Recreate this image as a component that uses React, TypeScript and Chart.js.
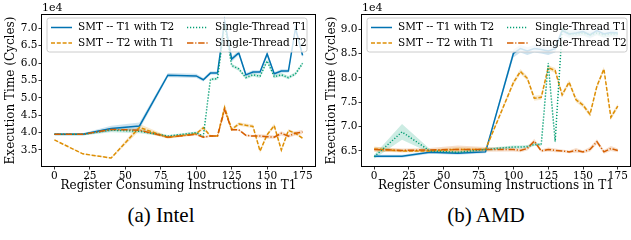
import React, { useEffect, useRef } from "react";
import { Chart, registerables } from "chart.js";
Chart.register(...registerables);

const xValues = [0, 20, 40, 60, 80, 100, 105, 110, 115, 120, 125, 130, 135, 140, 145, 150, 155, 160, 165, 170, 175];
const xTicks = [0, 25, 50, 75, 100, 125, 150, 175];
const seriesLabels = ["SMT -- T1 with T2", "SMT -- T2 with T1", "Single-Thread T1", "Single-Thread T2"];
const xTitle = "Register Consuming Instructions in T1";
const yTitle = "Execution Time (Cycles)";
const captions = ["(a) Intel", "(b) AMD"];

// Intel (values in 1e4 cycles)
const intelSmtT1 = [3.95, 3.95, 4.12, 4.19, 5.65, 5.63, 5.52, 5.71, 5.71, 7.2, 6.11, 6.29, 5.66, 5.74, 5.74, 6.26, 5.69, 5.77, 5.77, 7.0, 6.22];
const intelSmtT2 = [3.79, 3.39, 3.27, 4.15, 3.86, 3.97, 4.14, 3.9, 3.9, 4.72, 4.09, 4.25, 4.21, 4.18, 3.47, 3.94, 4.2, 3.5, 4.06, 3.98, 3.84];
const intelStT1 = [3.95, 3.95, 4.07, 4.04, 3.9, 4.0, 3.89, 5.53, 5.55, 7.1, 5.93, 5.83, 5.58, 5.66, 5.62, 6.06, 5.61, 5.66, 5.58, 5.69, 5.99];
const intelStT2 = [3.95, 3.95, 4.09, 4.07, 3.87, 3.95, 3.87, 3.9, 3.9, 4.66, 4.08, 4.08, 3.92, 3.9, 3.9, 3.88, 3.87, 3.98, 3.9, 3.98, 4.02];
const intelSmtT1Spread = [0.03, 0.03, 0.08, 0.1, 0.06, 0.06, 0.05, 0.05, 0.05, 0.15, 0.08, 0.06, 0.05, 0.05, 0.05, 0.08, 0.05, 0.05, 0.05, 0.12, 0.08];
const intelSmtT2Spread = [0.02, 0.02, 0.02, 0.1, 0.04, 0.03, 0.06, 0.03, 0.03, 0.12, 0.05, 0.05, 0.05, 0.05, 0.06, 0.04, 0.06, 0.06, 0.04, 0.04, 0.03];
const intelStT1Spread = [0.03, 0.03, 0.06, 0.06, 0.03, 0.03, 0.03, 0.04, 0.04, 0.08, 0.05, 0.05, 0.05, 0.05, 0.05, 0.05, 0.05, 0.05, 0.05, 0.05, 0.05];
const intelStT2Spread = [0.02, 0.02, 0.04, 0.04, 0.03, 0.03, 0.03, 0.03, 0.03, 0.08, 0.03, 0.03, 0.03, 0.03, 0.05, 0.06, 0.05, 0.06, 0.05, 0.06, 0.06];
const intelYTicks = [3.5, 4.0, 4.5, 5.0, 5.5, 6.0, 6.5, 7.0];

// AMD (values in 1e4 cycles)
const amdSmtT1 = [6.39, 6.39, 6.47, 6.45, 6.48, 8.5, 8.6, 8.55, 8.6, 8.58, 8.55, 8.6, 8.97, 8.9, 8.92, 8.95, 8.88, 8.97, 8.9, 8.93, 8.92];
const amdSmtT2 = [6.54, 6.5, 6.5, 6.53, 6.53, 7.9, 8.13, 7.99, 7.58, 7.6, 8.21, 8.15, 7.65, 7.91, 7.55, 7.44, 7.25, 7.83, 8.18, 7.19, 7.42];
const amdStT1 = [6.38, 6.89, 6.5, 6.47, 6.53, 6.58, 6.58, 6.59, 6.63, 6.63, 8.3, 6.69, 9.0, 8.9, 8.9, 8.92, 8.88, 8.92, 8.88, 8.9, 8.9];
const amdStT2 = [6.53, 6.51, 6.52, 6.53, 6.53, 6.53, 6.51, 6.55, 6.7, 6.5, 6.53, 6.51, 6.5, 6.48, 6.51, 6.48, 6.53, 6.69, 6.48, 6.55, 6.51];
const amdSmtT1Spread = [0.03, 0.03, 0.03, 0.03, 0.03, 0.08, 0.08, 0.08, 0.08, 0.08, 0.08, 0.08, 0.08, 0.08, 0.08, 0.08, 0.08, 0.08, 0.08, 0.08, 0.08];
const amdSmtT2Spread = [0.05, 0.03, 0.03, 0.05, 0.03, 0.05, 0.05, 0.05, 0.05, 0.05, 0.05, 0.05, 0.05, 0.05, 0.05, 0.05, 0.05, 0.05, 0.05, 0.05, 0.05];
const amdStT1Spread = [0.04, 0.16, 0.04, 0.03, 0.03, 0.03, 0.03, 0.03, 0.03, 0.03, 0.05, 0.05, 0.05, 0.05, 0.05, 0.05, 0.05, 0.05, 0.05, 0.05, 0.05];
const amdStT2Spread = [0.05, 0.04, 0.04, 0.08, 0.05, 0.04, 0.04, 0.04, 0.05, 0.03, 0.04, 0.04, 0.03, 0.03, 0.05, 0.03, 0.05, 0.05, 0.04, 0.05, 0.04];
const amdYTicks = [6.5, 7.0, 7.5, 8.0, 8.5, 9.0];

const colors = ["#0173b2", "#de8f05", "#029e73", "#d55e00"];
const fills = ["rgba(1,115,178,0.2)", "rgba(222,143,5,0.2)", "rgba(2,158,115,0.2)", "rgba(213,94,0,0.2)"];
const dashes: number[][] = [[], [4, 1.8], [1.2, 1.8], [6.4, 1.8, 1.2, 1.8]];
const serif = "'DejaVu Serif', serif";

type Cfg = {
  series: number[][];
  spreads: number[][];
  yTicks: number[];
  yMin: number;
  yMax: number;
  axisWidth: number;
  padRight: number;
  titlePad: number;
};

const legendPlugin = {
  id: "mplDecor",
  afterDraw(chart: any) {
    const { ctx, chartArea } = chart;
    const { left, right, top, bottom } = chartArea;
    ctx.save();
    ctx.strokeStyle = "#000";
    ctx.lineWidth = 1;
    ctx.setLineDash([]);
    ctx.strokeRect(Math.round(left) - 0.5, Math.round(top) - 0.5, Math.round(right - left) + 1, Math.round(bottom - top) + 1);
    ctx.fillStyle = "#000";
    ctx.font = `11px ${serif}`;
    ctx.textBaseline = "bottom";
    ctx.textAlign = "left";
    ctx.fillText("1e4", left, top - 1);
    const bx = left + 5, by = top + 3, bw = 260, bh = 34, r = 2.5;
    ctx.beginPath();
    ctx.moveTo(bx + r, by);
    ctx.lineTo(bx + bw - r, by);
    ctx.quadraticCurveTo(bx + bw, by, bx + bw, by + r);
    ctx.lineTo(bx + bw, by + bh - r);
    ctx.quadraticCurveTo(bx + bw, by + bh, bx + bw - r, by + bh);
    ctx.lineTo(bx + r, by + bh);
    ctx.quadraticCurveTo(bx, by + bh, bx, by + bh - r);
    ctx.lineTo(bx, by + r);
    ctx.quadraticCurveTo(bx, by, bx + r, by);
    ctx.closePath();
    ctx.fillStyle = "rgba(255,255,255,0.8)";
    ctx.fill();
    ctx.strokeStyle = "#cccccc";
    ctx.stroke();
    const entries = [
      { k: 0, col: 0, row: 0 },
      { k: 1, col: 0, row: 1 },
      { k: 2, col: 1, row: 0 },
      { k: 3, col: 1, row: 1 },
    ];
    ctx.font = `10.5px ${serif}`;
    ctx.textBaseline = "middle";
    for (const e of entries) {
      const hx = bx + (e.col === 0 ? 4 : 140);
      const tx = bx + (e.col === 0 ? 31 : 168);
      const y = by + (e.row === 0 ? 9.5 : 25);
      ctx.strokeStyle = colors[e.k];
      ctx.lineWidth = 1.5;
      ctx.setLineDash(dashes[e.k]);
      ctx.beginPath();
      ctx.moveTo(hx, y);
      ctx.lineTo(hx + 21, y);
      ctx.stroke();
      ctx.setLineDash([]);
      ctx.fillStyle = "#000";
      ctx.fillText(seriesLabels[e.k], tx, y);
    }
    ctx.restore();
  },
};

function makeConfig(cfg: Cfg): any {
  const datasets: any[] = [];
  cfg.series.forEach((vals, k) => {
    const sp = cfg.spreads[k];
    datasets.push({
      label: "band-hi-" + k,
      data: xValues.map((x, i) => ({ x, y: vals[i] + sp[i] })),
      borderWidth: 0,
      pointRadius: 0,
      fill: false,
      order: 20 + k,
    });
    datasets.push({
      label: "band-lo-" + k,
      data: xValues.map((x, i) => ({ x, y: vals[i] - sp[i] })),
      borderWidth: 0,
      pointRadius: 0,
      fill: "-1",
      backgroundColor: fills[k],
      order: 20 + k,
    });
  });
  cfg.series.forEach((vals, k) => {
    datasets.push({
      label: seriesLabels[k],
      data: xValues.map((x, i) => ({ x, y: vals[i] })),
      borderColor: colors[k],
      borderWidth: 1.5,
      borderDash: dashes[k],
      pointRadius: 0,
      fill: false,
      tension: 0,
      order: 10 - k,
    });
  });
  return {
    type: "line",
    data: { datasets },
    plugins: [legendPlugin],
    options: {
      animation: false,
      responsive: false,
      events: [],
      layout: { padding: { top: 15, right: cfg.padRight, left: 0, bottom: 0 } },
      plugins: { legend: { display: false }, tooltip: { enabled: false } },
      scales: {
        x: {
          type: "linear",
          min: -8.75,
          max: 183.75,
          afterBuildTicks: (s: any) => { s.ticks = xTicks.map((v) => ({ value: v })); },
          afterFit: (s: any) => { s.height = 29; },
          grid: { drawOnChartArea: false, drawTicks: true, tickLength: 3.5, color: "#000", tickWidth: 0.8 },
          border: { display: false },
          ticks: { color: "#000", font: { family: serif, size: 10.5 }, padding: 0, maxRotation: 0, autoSkip: false, callback: (v: any) => String(v) },
          title: { display: true, text: xTitle, color: "#000", font: { family: serif, size: 12 }, padding: { top: 0, bottom: 2 } },
        },
        y: {
          type: "linear",
          min: cfg.yMin,
          max: cfg.yMax,
          afterBuildTicks: (s: any) => { s.ticks = cfg.yTicks.map((v) => ({ value: v })); },
          afterFit: (s: any) => { s.width = cfg.axisWidth; },
          grid: { drawOnChartArea: false, drawTicks: true, tickLength: 3.5, color: "#000", tickWidth: 0.8 },
          border: { display: false },
          ticks: { color: "#000", font: { family: serif, size: 10.5 }, padding: 1, autoSkip: false, callback: (v: any) => Number(v).toFixed(1) },
          title: { display: true, text: yTitle, color: "#000", font: { family: serif, size: 12 }, padding: { top: cfg.titlePad, bottom: 0 } },
        },
      },
    },
  };
}

function Panel({ cfg, width, height }: { cfg: Cfg; width: number; height: number }) {
  const ref = useRef<HTMLCanvasElement>(null);
  useEffect(() => {
    if (!ref.current) return;
    const chart = new Chart(ref.current, makeConfig(cfg));
    return () => chart.destroy();
  }, []);
  return <canvas ref={ref} width={width} height={height} style={{ width, height, display: "block" }} />;
}

const intelCfg: Cfg = {
  series: [intelSmtT1, intelSmtT2, intelStT1, intelStT2],
  spreads: [intelSmtT1Spread, intelSmtT2Spread, intelStT1Spread, intelStT2Spread],
  yTicks: intelYTicks,
  yMin: 3.04,
  yMax: 7.38,
  axisWidth: 42,
  padRight: 3,
  titlePad: 4,
};
const amdCfg: Cfg = {
  series: [amdSmtT1, amdSmtT2, amdStT1, amdStT2],
  spreads: [amdSmtT1Spread, amdSmtT2Spread, amdStT1Spread, amdStT2Spread],
  yTicks: amdYTicks,
  yMin: 6.19,
  yMax: 9.29,
  axisWidth: 44,
  padRight: 1,
  titlePad: 7,
};

export default function App() {
  return (
    <div style={{ position: "absolute", left: 0, top: 0, width: 631, height: 240, background: "#fff", overflow: "hidden" }}>
      <div style={{ position: "absolute", left: 0, top: 0 }}>
        <Panel cfg={intelCfg} width={318} height={195} />
      </div>
      <div style={{ position: "absolute", left: 318, top: 0 }}>
        <Panel cfg={amdCfg} width={313} height={195} />
      </div>
      <div style={{ position: "absolute", left: 61, width: 200, top: 201, textAlign: "center", fontFamily: "'Liberation Serif', 'Times New Roman', serif", fontSize: 21, lineHeight: "28px", color: "#000" }}>{captions[0]}</div>
      <div style={{ position: "absolute", left: 386, width: 200, top: 201, textAlign: "center", fontFamily: "'Liberation Serif', 'Times New Roman', serif", fontSize: 21, lineHeight: "28px", color: "#000" }}>{captions[1]}</div>
    </div>
  );
}
